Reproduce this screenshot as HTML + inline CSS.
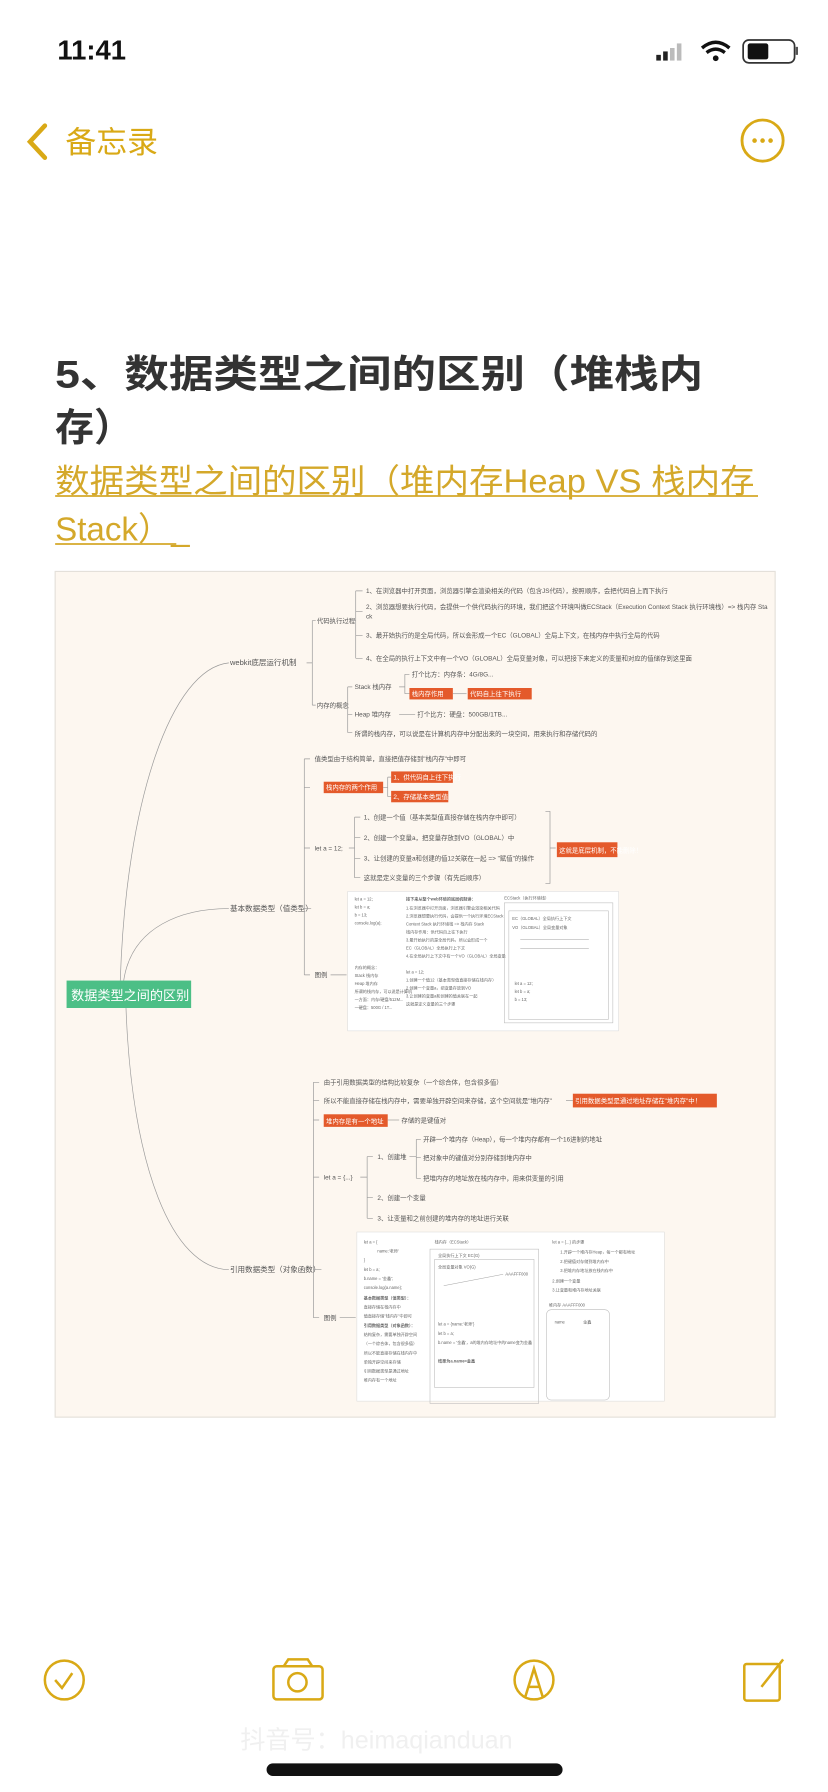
<!DOCTYPE html>
<html><head><meta charset="utf-8"><style>
html,body{margin:0;padding:0;background:#fff;width:828px;height:1792px;overflow:hidden}
svg{display:block}
text{font-family:"Liberation Sans","Noto Sans CJK SC",sans-serif}
.t{font-size:5.6px;fill:#555}
.b{font-size:6.6px;fill:#555}
.w{font-size:5.6px;fill:#fff}
.s{font-size:3.6px;fill:#666}
.l{stroke:#9a9a9a;stroke-width:0.6;fill:none}
</style></head><body>
<svg width="828" height="1792" viewBox="0 0 724 1568" xmlns="http://www.w3.org/2000/svg">
<rect width="724" height="1568" fill="#fff"/>
<!-- status bar -->
<text x="50" y="52" font-size="24" font-weight="bold" fill="#111">11:41</text>
<g fill="#222"><rect x="574" y="48" width="4" height="5"/><rect x="580" y="45" width="4" height="8"/><rect x="586" y="42" width="4" height="11" fill="#bbb"/><rect x="592" y="38" width="4" height="15" fill="#bbb"/></g>
<path d="M614 42 q12 -10 24 0 M618 46 q8 -6 16 0" stroke="#111" stroke-width="3" fill="none"/><circle cx="626" cy="51" r="2.5" fill="#111"/>
<rect x="650" y="35" width="45" height="20" rx="5" fill="none" stroke="#333" stroke-width="1.5"/><rect x="654" y="38" width="18" height="14" rx="2" fill="#111"/><rect x="696" y="41" width="2" height="7" fill="#555"/>
<!-- nav -->
<path d="M39 110 L26 124 L39 138" stroke="#d9a916" stroke-width="4" fill="none" stroke-linecap="round"/>
<text x="57" y="134" font-size="27" fill="#d9a916">备忘录</text>
<circle cx="667" cy="123" r="18" fill="none" stroke="#d9a916" stroke-width="2.5"/>
<circle cx="660" cy="123" r="2" fill="#d9a916"/><circle cx="667" cy="123" r="2" fill="#d9a916"/><circle cx="674" cy="123" r="2" fill="#d9a916"/>
<!-- title -->
<text x="48" y="339" font-size="34" font-weight="bold" fill="#333" textLength="567" lengthAdjust="spacingAndGlyphs">5、数据类型之间的区别（堆栈内</text>
<text x="48" y="386" font-size="34" font-weight="bold" fill="#333">存）</text>
<text x="48" y="431" font-size="29" fill="#d4a82a" textLength="612" lengthAdjust="spacingAndGlyphs">数据类型之间的区别（堆内存Heap VS 栈内存</text>
<text x="48" y="473" font-size="29" fill="#d4a82a">Stack）_</text>
<line x1="48" y1="434" x2="663" y2="434" stroke="#d4a82a" stroke-width="1.5"/>
<line x1="48" y1="476" x2="154" y2="476" stroke="#d4a82a" stroke-width="1.5"/>
<!-- diagram -->
<rect x="48" y="500" width="630" height="740" fill="#fdf7f0" stroke="#e4e0da" stroke-width="1"/>
<path class="l" d="M105 858 C110 700 150 585 200 580"/>
<path class="l" d="M108 858 C115 810 160 795 200 795"/>
<path class="l" d="M110 882 C115 1020 150 1110 200 1111"/>
<rect x="58" y="858" width="109" height="24" fill="#4cbf86"/>
<text x="62" y="875" font-size="11.5" fill="#fff">数据类型之间的区别</text>
<!-- webkit -->
<text class="b" x="201" y="582">webkit底层运行机制</text>
<path class="l" d="M268 580 h5 M273 543 v74 M273 543 h3 M273 617 h3"/>
<text class="t" x="277" y="545">代码执行过程</text>
<text class="t" x="277" y="619">内存的概念</text>
<path class="l" d="M306 543 h5 M311 517 v59 M311 517 h6 M311 535 h6 M311 556 h6 M311 576 h6"/>
<text class="t" x="320" y="519">1、在浏览器中打开页面，浏览器引擎会渲染相关的代码（包含JS代码），按照顺序，会把代码自上而下执行</text>
<text class="t" x="320" y="533">2、浏览器想要执行代码，会提供一个供代码执行的环境，我们把这个环境叫做ECStack（Execution Context Stack 执行环境栈）=&gt; 栈内存 Sta</text>
<text class="t" x="320" y="541">ck</text>
<text class="t" x="320" y="558">3、最开始执行的是全局代码，所以会形成一个EC（GLOBAL）全局上下文，在栈内存中执行全局的代码</text>
<text class="t" x="320" y="578">4、在全局的执行上下文中有一个VO（GLOBAL）全局变量对象，可以把接下来定义的变量和对应的值储存到这里面</text>
<path class="l" d="M300 617 h4 M304 601 v40 M304 601 h4 M304 625 h4 M304 641 h4"/>
<text class="t" x="310" y="603">Stack 栈内存</text>
<path class="l" d="M349 601 h5 M354 590 v17 M354 590 h4 M354 607 h4"/>
<text class="t" x="360" y="592">打个比方：内存条：4G/8G...</text>
<rect x="358" y="602" width="38" height="10" fill="#e45a2b"/><text class="w" x="360" y="609">栈内存作用</text>
<path class="l" d="M396 607 h12"/>
<rect x="409" y="602" width="56" height="10" fill="#e45a2b"/><text class="w" x="411" y="609">代码自上往下执行</text>
<text class="t" x="310" y="627">Heap 堆内存</text>
<path class="l" d="M349 625 h14"/>
<text class="t" x="365" y="627">打个比方：硬盘：500GB/1TB...</text>
<text class="t" x="310" y="644">所谓的栈内存，可以说是在计算机内存中分配出来的一块空间，用来执行和存储代码的</text>
<!-- basic -->
<text class="b" x="201" y="797">基本数据类型（值类型）</text>
<path class="l" d="M272 795 h-6 M266 664 v189 M266 664 h5 M266 689 h5 M266 742 h5 M266 853 h5"/>
<text class="t" x="275" y="666">值类型由于结构简单，直接把值存储到"栈内存"中即可</text>
<rect x="283" y="684" width="52" height="10" fill="#e45a2b"/><text class="w" x="285" y="691">栈内存的两个作用</text>
<path class="l" d="M335 689 h4 M339 680 v17 M339 680 h3 M339 697 h3"/>
<rect x="342" y="675" width="54" height="10" fill="#e45a2b"/><text class="w" x="344" y="682">1、供代码自上往下执行</text>
<rect x="342" y="692" width="50" height="10" fill="#e45a2b"/><text class="w" x="344" y="699">2、存储基本类型值</text>
<text class="t" x="275" y="744">let a = 12;</text>
<path class="l" d="M305 742 h5 M310 715 v53 M310 715 h5 M310 733 h5 M310 751 h5 M310 768 h5"/>
<text class="t" x="318" y="717">1、创建一个值（基本类型值直接存储在栈内存中即可）</text>
<text class="t" x="318" y="735">2、创建一个变量a，把变量存放到VO（GLOBAL）中</text>
<text class="t" x="318" y="753">3、让创建的变量a和创建的值12关联在一起 =&gt; "赋值"的操作</text>
<text class="t" x="318" y="770">这就是定义变量的三个步骤（有先后顺序）</text>
<path class="l" d="M477 710 h4 v63 h-4 M481 742 h5"/>
<rect x="487" y="737" width="53" height="13" fill="#e45a2b"/><text class="w" x="489" y="746">这就是底层机制，不能删除！</text>
<text class="t" x="275" y="855">图例</text>
<path class="l" d="M289 853 h14"/>
<rect x="304" y="780" width="237" height="122" fill="#fff" stroke="#ddd" stroke-width="0.5"/>
<text class="s" x="310" y="788">let a = 12;</text><text class="s" x="310" y="795">let b = a;</text><text class="s" x="310" y="802">b = 13;</text><text class="s" x="310" y="809">console.log(a);</text>
<text class="s" x="355" y="788" font-weight="bold">接下来从整个web环境的底层机制讲：</text>
<text class="s" x="355" y="796">1.在浏览器中打开页面，浏览器引擎会渲染相关代码</text>
<text class="s" x="355" y="803">2.浏览器想要执行代码，会提供一个执行环境ECStack</text>
<text class="s" x="355" y="810">Context Stack 执行环境栈 =&gt; 栈内存 Stack</text>
<text class="s" x="355" y="817">栈内存作用：供代码自上往下执行</text>
<text class="s" x="355" y="824">3.最开始执行的是全局代码，所以会形成一个</text>
<text class="s" x="355" y="831">EC（GLOBAL）全局执行上下文</text>
<text class="s" x="355" y="838" fill="#3a3">4.在全局执行上下文中有一个VO（GLOBAL）全局变量</text>
<text class="s" x="310" y="848" fill="#55a">内存的概念：</text><text class="s" x="310" y="855" fill="#55a">Stack 栈内存</text><text class="s" x="310" y="862" fill="#55a">Heap 堆内存</text><text class="s" x="310" y="869" fill="#55a">所谓的栈内存，可以说是计算机</text><text class="s" x="310" y="876" fill="#55a">一方面：内存/硬盘/512M...</text><text class="s" x="310" y="883" fill="#55a">一硬盘：500G / 1T...</text>
<text class="s" x="355" y="852">let a = 12;</text>
<text class="s" x="355" y="859" fill="#d33">1.创建一个值12（基本类型值直接存储在栈内存）</text>
<text class="s" x="355" y="866" fill="#d33">2.创建一个变量a，把变量存放到VO</text>
<text class="s" x="355" y="873" fill="#d33">3.让创建的变量a和创建的值关联在一起</text>
<text class="s" x="355" y="880" fill="#d33">这就是定义变量的三个步骤</text>
<rect x="441" y="790" width="95" height="105" fill="none" stroke="#bbb" stroke-width="0.5"/>
<rect x="445" y="797" width="87" height="95" fill="none" stroke="#bbb" stroke-width="0.5"/>
<text class="s" x="441" y="787">ECStack（执行环境栈）</text>
<text class="s" x="448" y="805">EC（GLOBAL）全局执行上下文</text>
<text class="s" x="448" y="813" fill="#3a3">VO（GLOBAL）全局变量对象</text>
<line x1="455" y1="822" x2="515" y2="822" stroke="#999" stroke-width="0.4"/><line x1="455" y1="830" x2="515" y2="830" stroke="#999" stroke-width="0.4"/>
<text class="s" x="450" y="862">let a = 12;</text><text class="s" x="450" y="869">let b = a;</text><text class="s" x="450" y="876">b = 13;</text>
<!-- reference -->
<text class="b" x="201" y="1113">引用数据类型（对象函数）</text>
<path class="l" d="M281 1111 h-7 M274 947 v206 M274 947 h5 M274 963 h5 M274 980 h5 M274 1030 h5 M274 1153 h5"/>
<text class="t" x="283" y="949">由于引用数据类型的结构比较复杂（一个综合体，包含很多值）</text>
<text class="t" x="283" y="965">所以不能直接存储在栈内存中，需要单独开辟空间来存储，这个空间就是"堆内存"</text>
<path class="l" d="M495 963 h6"/>
<rect x="501" y="957" width="126" height="12" fill="#e45a2b"/><text class="w" x="503" y="965">引用数据类型是通过地址存储在"堆内存"中！</text>
<rect x="283" y="975" width="56" height="11" fill="#e45a2b"/><text class="w" x="285" y="983">堆内存是有一个地址</text>
<path class="l" d="M339 980 h10"/>
<text class="t" x="351" y="982">存储的是键值对</text>
<text class="t" x="283" y="1032">let a = {...}</text>
<path class="l" d="M315 1030 h6 M321 1012 v54 M321 1012 h5 M321 1048 h5 M321 1066 h5"/>
<text class="t" x="330" y="1014">1、创建堆</text>
<path class="l" d="M358 1012 h6 M364 997 v34 M364 997 h4 M364 1013 h4 M364 1031 h4"/>
<text class="t" x="370" y="999">开辟一个堆内存（Heap），每一个堆内存都有一个16进制的地址</text>
<text class="t" x="370" y="1015">把对象中的键值对分别存储到堆内存中</text>
<text class="t" x="370" y="1033">把堆内存的地址放在栈内存中，用来供变量的引用</text>
<text class="t" x="330" y="1050">2、创建一个变量</text>
<text class="t" x="330" y="1068">3、让变量和之前创建的堆内存的地址进行关联</text>
<text class="t" x="283" y="1155">图例</text>
<path class="l" d="M297 1153 h14"/>
<rect x="312" y="1078" width="269" height="148" fill="#fff" stroke="#ddd" stroke-width="0.5"/>
<text class="s" x="318" y="1088">let a = {</text><text class="s" x="330" y="1096">name:'老师'</text><text class="s" x="318" y="1104">}</text><text class="s" x="318" y="1112">let b = a;</text><text class="s" x="318" y="1120">b.name = '金鑫';</text><text class="s" x="318" y="1128">console.log(a.name);</text>
<text class="s" x="318" y="1137" font-weight="bold">基本数据类型（值类型）：</text><text class="s" x="318" y="1145">直接存储在栈内存中</text><text class="s" x="318" y="1153">值直接存储"栈内存"中即可</text><text class="s" x="318" y="1161" font-weight="bold">引用数据类型（对象函数）：</text><text class="s" x="318" y="1169">结构复杂，需要单独开辟空间</text><text class="s" x="318" y="1177">（一个综合体，包含很多值）</text><text class="s" x="318" y="1185">所以不能直接存储在栈内存中</text><text class="s" x="318" y="1193">单独开辟空间来存储</text><text class="s" x="318" y="1201" fill="#d33">引用数据类型是通过地址</text><text class="s" x="318" y="1209">堆内存有一个地址</text>
<text class="s" x="380" y="1088">栈内存（ECStack）</text>
<rect x="376" y="1093" width="95" height="135" fill="none" stroke="#bbb" stroke-width="0.5"/>
<rect x="380" y="1102" width="87" height="112" fill="none" stroke="#bbb" stroke-width="0.5"/>
<text class="s" x="383" y="1100">全局执行上下文 EC(G)</text><text class="s" x="383" y="1110">全局变量对象 VO(G)</text>
<line x1="388" y1="1125" x2="440" y2="1115" stroke="#999" stroke-width="0.4"/><text class="s" x="442" y="1116">AAAFFF000</text>
<text class="s" x="383" y="1160">let a = {name:'老师'}</text><text class="s" x="383" y="1168">let b = a;</text><text class="s" x="383" y="1176" fill="#d33">b.name = '金鑫'，a的堆内存地址中的name变为金鑫</text><text class="s" x="383" y="1192" font-weight="bold">结果为a.name=金鑫</text>
<text class="s" x="483" y="1088" fill="#3a3">let a = {...} 的步骤</text><text class="s" x="490" y="1097" fill="#3a3">1.开辟一个堆内存Heap，每一个都有地址</text><text class="s" x="490" y="1105" fill="#3a3">2.把键值对存储到堆内存中</text><text class="s" x="490" y="1113" fill="#3a3">3.把堆内存地址放在栈内存中</text><text class="s" x="483" y="1122" fill="#3a3">2.创建一个变量</text><text class="s" x="483" y="1130" fill="#3a3">3.让变量和堆内存地址关联</text>
<text class="s" x="480" y="1143" fill="#3a3">堆内存 AAAFFF000</text>
<rect x="478" y="1146" width="55" height="79" rx="4" fill="none" stroke="#bbb" stroke-width="0.5"/>
<text class="s" x="485" y="1158">name</text><text class="s" x="510" y="1158" fill="#d33">金鑫</text>
<!-- bottom toolbar -->
<g stroke="#d9a916" stroke-width="2.2" fill="none">
<circle cx="56" cy="1470" r="17"/><path d="M48 1470 l6 7 l9 -13"/>
<rect x="239" y="1458" width="43" height="29" rx="3"/><path d="M248 1458 l4 -6 h17 l4 6"/><circle cx="260" cy="1472" r="8"/>
<circle cx="467" cy="1470" r="17"/><path d="M459 1486 l8 -26 l8 26 M462 1476 h10"/>
<rect x="651" y="1456" width="31" height="32" rx="2"/><path d="M666 1476 l19 -24"/>
</g>
<text x="210" y="1530" font-size="22" fill="#f0f0f0">抖音号：heimaqianduan</text>
<rect x="233" y="1543" width="259" height="11" rx="5.5" fill="#111"/>
</svg>
</body></html>
